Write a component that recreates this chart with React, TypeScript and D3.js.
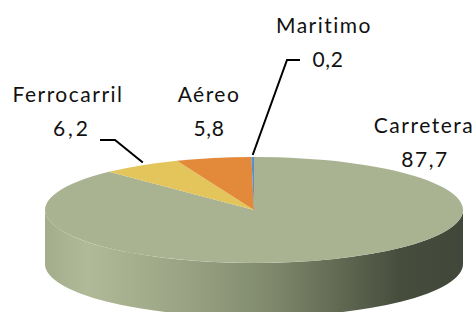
import React from "react";
import * as d3 from "d3";

// transport share (%), drawn clockwise from 12 o'clock
const categories = ["Carretera", "Ferrocarril", "Aéreo", "Maritimo"];
const values = [87.7, 6.2, 5.8, 0.2];
const valueLabels = ["87,7", "6,2", "5,8", "0,2"];
const colors = ["#a9b392", "#e3c55c", "#e2893a", "#5b8fc9"];

const W = 475, H = 312;
const cx = 254, cy = 210;
const rx = 209, ry = 53;
const depth = 54;
const k = ry / rx;

export default function App() {
  const pie = d3.pie<number>().sort(null).value((d) => d);
  const arcs = pie(values);
  const arc = d3.arc<d3.PieArcDatum<number>>().innerRadius(0).outerRadius(rx);

  // front wall: only the part of each slice facing the viewer (pi/2 .. 3pi/2)
  const sides = arcs
    .map((a, i) => {
      const a0 = Math.max(a.startAngle, Math.PI / 2);
      const a1 = Math.min(a.endAngle, (3 * Math.PI) / 2);
      if (a1 <= a0) return null;
      const p = d3.path();
      const off = depth / k;
      p.moveTo(rx * Math.sin(a0), -rx * Math.cos(a0));
      p.arc(0, 0, rx, a0 - Math.PI / 2, a1 - Math.PI / 2, false);
      p.lineTo(rx * Math.sin(a1), -rx * Math.cos(a1) + off);
      p.arc(0, off, rx, a1 - Math.PI / 2, a0 - Math.PI / 2, true);
      p.closePath();
      return { d: p.toString(), i };
    })
    .filter(Boolean) as { d: string; i: number }[];

  // point on the top rim for a pie angle
  const rim = (ang: number) => [cx + rx * Math.sin(ang), cy - ry * Math.cos(ang)];
  const mid = (a: d3.PieArcDatum<number>) => (a.startAngle + a.endAngle) / 2;

  const pMar = rim(mid(arcs[3]));
  const pFer = rim(mid(arcs[1]));

  const textStyle = {
    fontFamily: "Lato, 'Open Sans', sans-serif",
    fontSize: 21,
    letterSpacing: 1.5,
    fill: "#111",
  };
  const numStyle = { letterSpacing: 0.6 };

  return (
    <svg width={W} height={H} style={{ position: "absolute", left: 0, top: 0 }}>
      <defs>
        <linearGradient id="side" gradientUnits="userSpaceOnUse" x1={-rx} x2={rx} y1={0} y2={0}>
          <stop offset="0" stopColor="#a3ac8b" />
          <stop offset="0.1" stopColor="#b0ba98" />
          <stop offset="0.35" stopColor="#98a282" />
          <stop offset="0.55" stopColor="#7e876a" />
          <stop offset="0.72" stopColor="#5e6650" />
          <stop offset="0.85" stopColor="#464d3d" />
          <stop offset="1" stopColor="#41483a" />
        </linearGradient>
      </defs>
      <g transform={`translate(${cx},${cy}) scale(1,${k})`}>
        {sides.map((s) => (
          <path key={"s" + s.i} d={s.d} fill="url(#side)" />
        ))}
        {arcs.map((a, i) => (
          <path key={i} d={arc(a) || ""} fill={colors[i]} />
        ))}
      </g>
      {/* leader lines */}
      <polyline
        points={`${pMar[0]},${pMar[1] - 2} 287,60 300,60`}
        fill="none"
        stroke="#000"
        strokeWidth={2}
      />
      <polyline
        points={`${pFer[0] + 2},${pFer[1] - 3} 115,140 100,140`}
        fill="none"
        stroke="#000"
        strokeWidth={2}
      />
      <g style={textStyle as React.CSSProperties}>
        <text x={324} y={33} textAnchor="middle">{categories[3]}</text>
        <text x={328} y={67} textAnchor="middle" style={numStyle}>{valueLabels[3]}</text>
        <text x={68} y={102} textAnchor="middle">{categories[1]}</text>
        <text x={72} y={136} textAnchor="middle" style={{ letterSpacing: 3 }}>{valueLabels[1]}</text>
        <text x={209} y={102} textAnchor="middle">{categories[2]}</text>
        <text x={209} y={136} textAnchor="middle" style={numStyle}>{valueLabels[2]}</text>
        <text x={424} y={133} textAnchor="middle">{categories[0]}</text>
        <text x={425} y={167} textAnchor="middle">{valueLabels[0]}</text>
      </g>
    </svg>
  );
}
